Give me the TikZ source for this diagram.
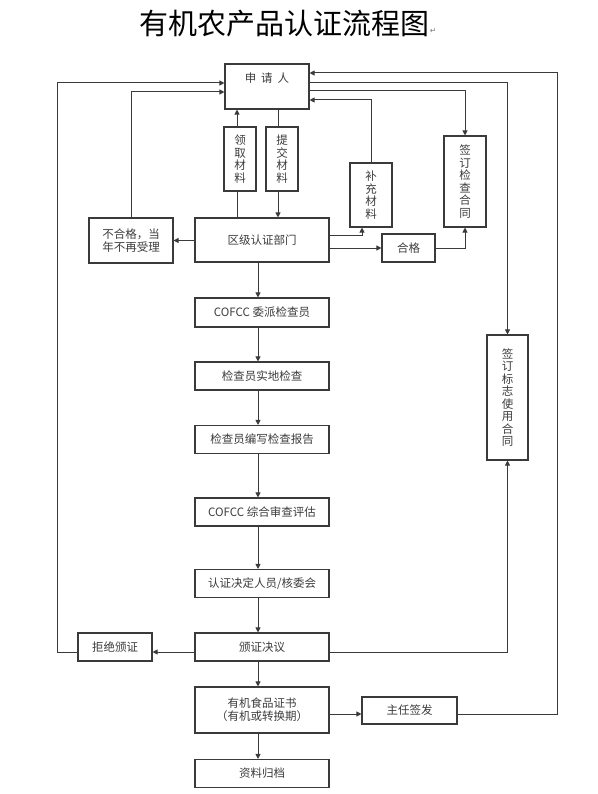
\documentclass[tikz,border=0pt]{standalone}
\usepackage{fontspec}
\setmainfont{Noto Sans CJK SC}
\newfontfamily\dejavu{DejaVu Sans}
\usetikzlibrary{arrows.meta}
\definecolor{ln}{HTML}{3A3A3A}
\definecolor{tx}{HTML}{3C3C3C}
\begin{document}
\begin{tikzpicture}[x=1pt,y=-1pt,
  box/.style={draw=ln, line width=1.1pt, fill=white, inner sep=0pt, text=tx,
    font=\fontsize{11.5}{13}\selectfont, align=center},
  vbox/.style={box, font=\fontsize{11.5}{12.5}\selectfont},
  conn/.style={draw=ln, line width=1pt},
  arr/.style={conn, -{Triangle[length=5pt,width=5pt]}},
]
\useasboundingbox (0,0) rectangle (597,794);
% title
\node[font=\fontsize{29}{29}\selectfont, inner sep=0pt] (title) at (284.5,24) {有机农产品认证流程图};
\node[font=\dejavu\fontsize{8}{8}\selectfont, text=gray, inner sep=0pt, anchor=west] (mark) at (title.east) [yshift=-7pt] {↵};

% boxes
\node[box, minimum width=84pt, minimum height=45pt] (app) at (267,86.5) {};
\node[text=tx, font=\fontsize{11.5}{13}\selectfont, inner sep=0pt] (appt) at (267,78) {申\hspace{5pt}请\hspace{5pt}人};
\node[vbox, minimum width=32pt, minimum height=64pt] (ling) at (240,159) {领\\取\\材\\料};
\node[vbox, minimum width=32pt, minimum height=64pt] (tj) at (282,159) {提\\交\\材\\料};
\node[vbox, minimum width=42pt, minimum height=64pt] (bc) at (371,195) {补\\充\\材\\料};
\node[vbox, minimum width=42pt, minimum height=91pt] (qd1) at (465,181.5) {签\\订\\检\\查\\合\\同};
\node[box, minimum width=84pt, minimum height=45pt] (bhg) at (131,240.5) {不合格，当\\年不再受理};
\node[box, minimum width=134pt, minimum height=44pt] (qu) at (262,240) {区级认证部门};
\node[box, minimum width=53pt, minimum height=28pt] (hg) at (408.5,248) {合格};
\node[box, minimum width=134pt, minimum height=29pt] (c1) at (262,312.5) {COFCC 委派检查员};
\node[box, minimum width=134pt, minimum height=28pt] (c2) at (262,376) {检查员实地检查};
\node[box, minimum width=134pt, minimum height=28pt] (c3) at (262,439.5) {检查员编写检查报告};
\node[box, minimum width=134pt, minimum height=28pt] (c4) at (262,512) {COFCC 综合审查评估};
\node[box, minimum width=134pt, minimum height=28pt] (c5) at (262,583.5) {认证决定人员/核委会};
\node[box, minimum width=134pt, minimum height=28pt] (c6) at (262,647) {颁证决议};
\node[box, minimum width=134pt, minimum height=46pt] (c7) at (262,710) {有机食品证书\\（有机或转换期）};
\node[box, minimum width=134pt, minimum height=28pt] (c8) at (262,773.5) {资料归档};
\node[box, minimum width=74pt, minimum height=28pt] (rf) at (115,647) {拒绝颁证};
\node[box, minimum width=95pt, minimum height=27pt] (dr) at (409.5,710.5) {主任签发};
\node[vbox, minimum width=41pt, minimum height=125pt] (qd2) at (507.5,397.5) {签\\订\\标\\志\\使\\用\\合\\同};

% connectors around applicant
\draw[conn] ([xshift=-3pt]ling.south) -- ([xshift=-3pt]ling.south |- qu.north);
\draw[arr] ([xshift=-3pt]ling.north) -- ([xshift=-3pt]ling.north |- app.south);
\draw[conn] ([xshift=-4pt]tj.north |- app.south) -- ([xshift=-4pt]tj.north);
\draw[arr] ([xshift=-4pt]tj.south) -- ([xshift=-4pt]tj.south |- qu.north);
\draw[arr] (qu.west |- bhg.east) -- (bhg.east);
\draw[arr] (bhg.north) |- ([yshift=-5.5pt]app.west);
\draw[arr] ([yshift=-5pt]rf.west) -- ++(-20,0) |- ([yshift=3.5pt]app.west);
\draw[arr] ([yshift=5pt]qu.east) -| ([xshift=-9pt]bc.south);
\draw[arr] (bc.north) |- ([yshift=-13.5pt]app.east);
\draw[arr] (qu.east |- hg.west) -- (hg.west);
\draw[arr] (hg.east) -| (qd1.south);
\draw[arr] ([yshift=-4.5pt]app.east) -| (qd1.north);
\draw[arr] ([yshift=3.5pt]app.east) -| (qd2.north);
\draw[arr] ([yshift=-5pt]c6.east) -| (qd2.south);
\draw[arr] ([yshift=-5pt]c6.west) -- ([yshift=-5pt]rf.east);
\draw[arr] ([yshift=-4pt]c7.east) -- ([yshift=-4pt]c7.east -| dr.west);
\draw[arr] ([yshift=-3.5pt]dr.east) -- ++(100,0) |- ([yshift=13.5pt]app.east);

% main chain
\foreach \a/\b in {qu/c1, c1/c2, c2/c3, c3/c4, c4/c5, c5/c6, c6/c7, c7/c8}
  \draw[arr] ([xshift=-4pt]\a.south) -- ([xshift=-4pt]\b.north);
\end{tikzpicture}
\end{document}
